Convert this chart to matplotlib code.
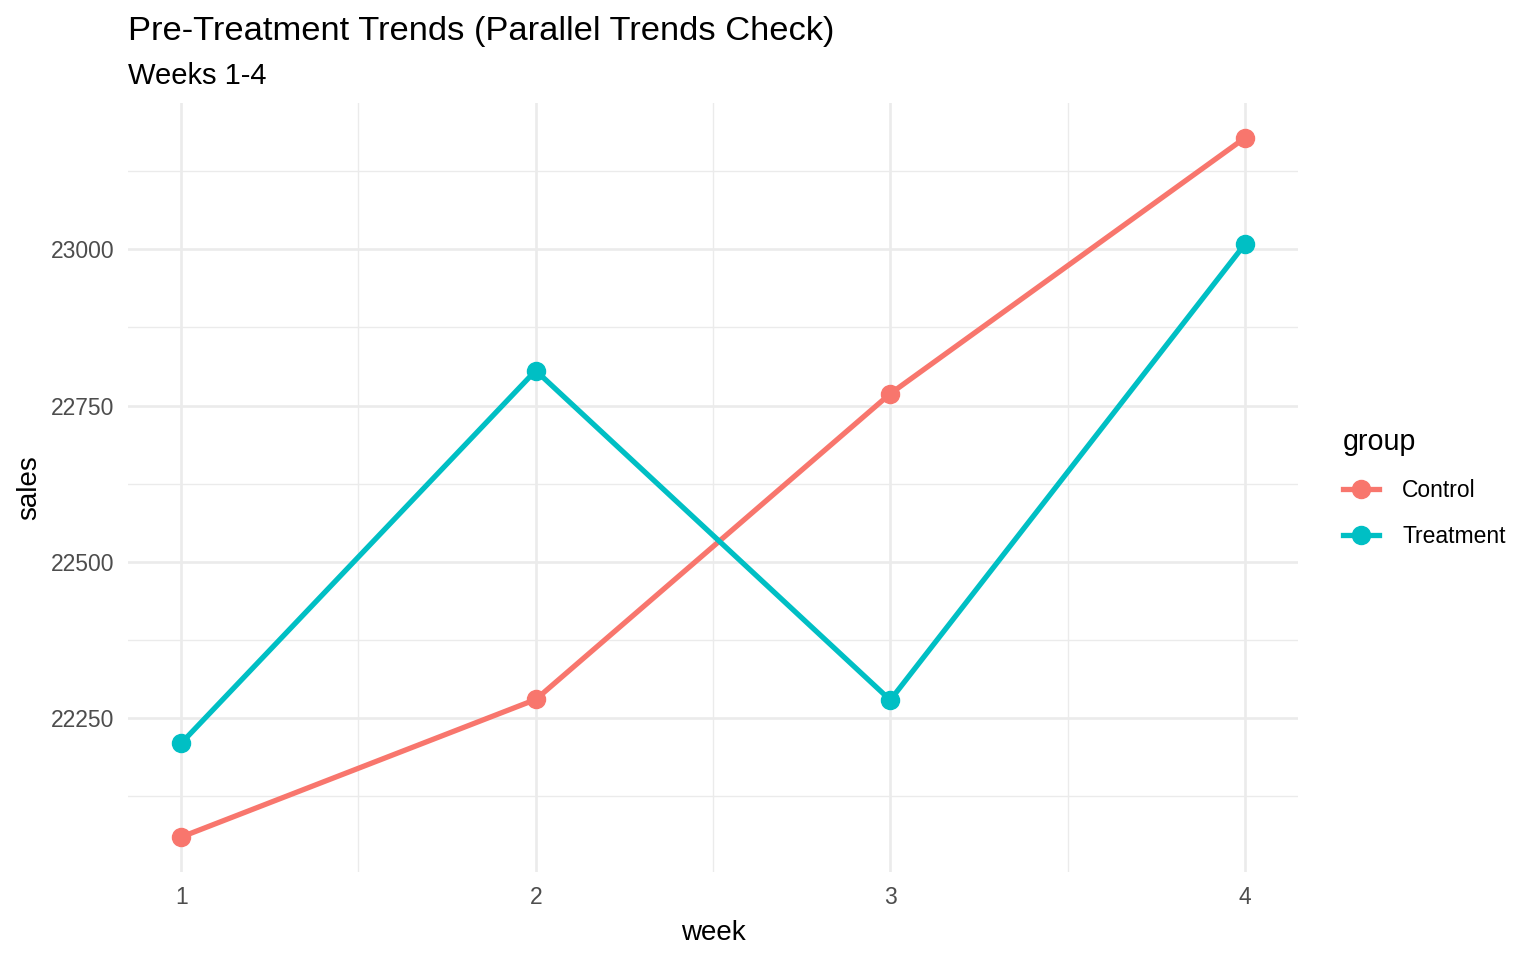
import matplotlib.pyplot as plt
import numpy as np
from matplotlib.lines import Line2D

plt.rcParams['font.family'] = ['Liberation Sans', 'DejaVu Sans']

weeks = [1, 2, 3, 4]
control_sales = [22060, 22280, 22769, 23178]
treatment_sales = [22210, 22806, 22279, 23008]
groups = ['Control', 'Treatment']
colors = ['#F8766D', '#00BFC4']

fig = plt.figure(figsize=(15.36, 9.6), dpi=100)
ax = fig.add_axes([128/1536, 1 - 872/960, (1298-128)/1536, (872-103)/960])

for vals, col, name in zip([control_sales, treatment_sales], colors, groups):
    ax.plot(weeks, vals, color=col, lw=3.8, marker='o', ms=13,
            solid_capstyle='butt', label=name, zorder=3)

# ggplot-like expansion (5%)
allv = np.array(control_sales + treatment_sales)
rng = allv.max() - allv.min()
ax.set_ylim(allv.min() - 0.05*rng, allv.max() + 0.05*rng)
ax.set_xlim(1 - 0.15, 4 + 0.15)

ax.set_xticks(weeks)
ax.set_xticks([1.5, 2.5, 3.5], minor=True)
ax.set_yticks([22250, 22500, 22750, 23000])
ax.set_yticks([22125, 22375, 22625, 22875, 23125], minor=True)

ax.grid(which='major', color='#EBEBEB', lw=1.9)
ax.grid(which='minor', color='#EBEBEB', lw=1.0)
ax.set_axisbelow(True)
for s in ax.spines.values():
    s.set_visible(False)
ax.tick_params(which='both', length=0)
ax.tick_params(axis='both', labelsize=16.5, labelcolor='#4D4D4D')
ax.tick_params(axis='x', pad=10)
ax.tick_params(axis='y', pad=10)

ax.set_xlabel('week', fontsize=20, labelpad=8)
ax.set_ylabel('sales', fontsize=20, labelpad=6)

fig.text(128/1536, 1 - 16/960, 'Pre-Treatment Trends (Parallel Trends Check)',
         fontsize=24.8, va='top', ha='left')
fig.text(128/1536, 1 - 62/960, 'Weeks 1-4', fontsize=21, va='top', ha='left')

handles = [Line2D([0], [0], color=c, lw=3.8, marker='o', ms=13) for c in colors]
leg = fig.legend(handles, groups, loc='upper left',
                 bbox_to_anchor=(1322/1536, 1 - 407/960), frameon=False,
                 title='group', fontsize=16.5, title_fontsize=20.6,
                 handlelength=1.6, handletextpad=1.0, labelspacing=1.02)
leg._legend_box.align = 'left'

fig.savefig('out.png', dpi=100)
